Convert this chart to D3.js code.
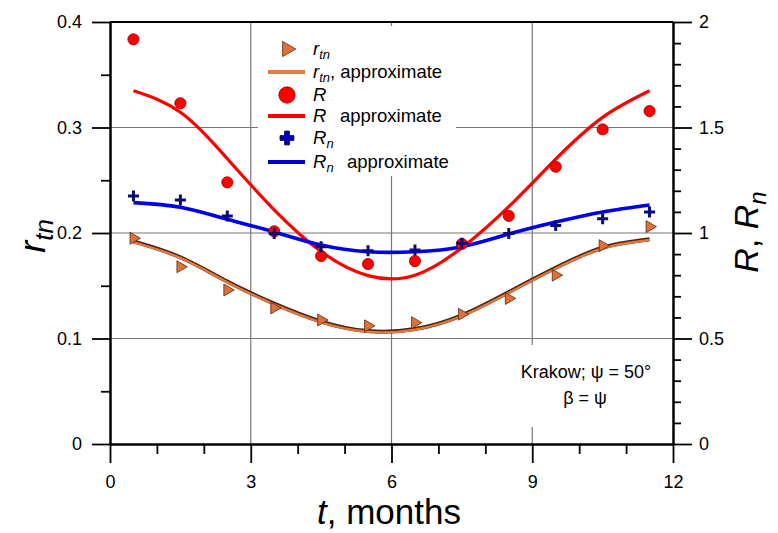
<!DOCTYPE html>
<html>
<head>
<meta charset="utf-8">
<script src="https://cdn.jsdelivr.net/npm/d3@7"></script>
<style>
  body { margin: 0; background: #fff; }
  svg { font-family: "Liberation Sans", Arial, sans-serif; }
  .axis path, .axis line { stroke: #000; }
  .axis text { font-size: 18px; fill: #000; }
</style>
</head>
<body>
<div id="chart"></div>
<script>
// month centres
var months = [0.5, 1.5, 2.5, 3.5, 4.5, 5.5, 6.5, 7.5, 8.5, 9.5, 10.5, 11.5];

// left axis series
var rtn       = [0.195, 0.168, 0.146, 0.129, 0.1175, 0.112, 0.115, 0.123, 0.138, 0.160, 0.188, 0.206];
var rtnApprox = [0.192, 0.177, 0.154, 0.133, 0.116, 0.107, 0.109, 0.122, 0.144, 0.167, 0.186, 0.194];

// right axis series
var R        = [1.918, 1.615, 1.240, 1.008, 0.891, 0.853, 0.867, 0.948, 1.081, 1.314, 1.491, 1.578];
var RApprox  = [1.674, 1.572, 1.352, 1.110, 0.912, 0.798, 0.800, 0.930, 1.125, 1.350, 1.548, 1.674];
var Rn       = [1.175, 1.156, 1.081, 0.998, 0.935, 0.916, 0.919, 0.951, 0.998, 1.036, 1.068, 1.100];
var RnApprox = [1.144, 1.122, 1.065, 1.005, 0.943, 0.911, 0.911, 0.935, 0.995, 1.052, 1.100, 1.133];

var xTicks = [0, 3, 6, 9, 12];
var leftTicks = [0, 0.1, 0.2, 0.3, 0.4];
var rightTicks = [0, 0.5, 1, 1.5, 2];

var W = 778, H = 533;
var pLeft = 110, pRight = 673, pTop = 22, pBottom = 444;

var x = d3.scaleLinear().domain([0, 12]).range([pLeft, pRight]);
var y = d3.scaleLinear().domain([0, 0.4]).range([pBottom, pTop]);
var y2 = d3.scaleLinear().domain([0, 2]).range([pBottom, pTop]);

var svg = d3.select("#chart").append("svg")
    .attr("width", W)
    .attr("height", H);

// grid
var grid = svg.append("g");
grid.selectAll(".hgrid")
    .data([0.1, 0.2, 0.3])
    .enter().append("line")
    .attr("x1", pLeft).attr("x2", pRight)
    .attr("y1", function (d) { return y(d); })
    .attr("y2", function (d) { return y(d); })
    .style("stroke", "#777").style("stroke-width", 1.2);
grid.selectAll(".vgrid")
    .data([3, 6, 9])
    .enter().append("line")
    .attr("y1", pTop).attr("y2", pBottom)
    .attr("x1", function (d) { return x(d); })
    .attr("x2", function (d) { return x(d); })
    .style("stroke", "#777").style("stroke-width", 1.2);

// white boxes behind legend and note
svg.append("rect").attr("x", 258).attr("y", 26).attr("width", 198).attr("height", 150).style("fill", "#fff");
svg.append("rect").attr("x", 508).attr("y", 345).attr("width", 160).attr("height", 82).style("fill", "#fff");

// axes
var minorLeft = [0.05, 0.15, 0.25, 0.35];
var minorRight = [0.1, 0.2, 0.3, 0.4, 0.6, 0.7, 0.8, 0.9, 1.1, 1.2, 1.3, 1.4, 1.6, 1.7, 1.8, 1.9];
var minorX = [1, 2, 4, 5, 7, 8, 10, 11];

svg.append("g").attr("class", "axis")
    .attr("transform", "translate(" + pLeft + ",0)")
    .call(d3.axisLeft(y).tickValues(minorLeft).tickSize(9).tickSizeOuter(0).tickFormat(""));
svg.append("g").attr("class", "axis")
    .attr("transform", "translate(" + pLeft + ",0)")
    .call(d3.axisLeft(y).tickValues(leftTicks).tickSize(18).tickSizeOuter(0).tickPadding(10)
        .tickFormat(function (d) { return d === 0 ? "0" : d3.format(".1f")(d); }));

svg.append("g").attr("class", "axis")
    .attr("transform", "translate(" + pRight + ",0)")
    .call(d3.axisRight(y2).tickValues(minorRight).tickSize(8).tickSizeOuter(0).tickFormat(""));
svg.append("g").attr("class", "axis")
    .attr("transform", "translate(" + pRight + ",0)")
    .call(d3.axisRight(y2).tickValues(rightTicks).tickSize(19).tickSizeOuter(0).tickPadding(7)
        .tickFormat(function (d) { return String(d); }));

svg.append("g").attr("class", "axis")
    .attr("transform", "translate(0," + pBottom + ")")
    .call(d3.axisBottom(x).tickValues(minorX).tickSize(10).tickSizeOuter(0).tickFormat(""));
svg.append("g").attr("class", "axis")
    .attr("transform", "translate(0," + pBottom + ")")
    .call(d3.axisBottom(x).tickValues(xTicks).tickSize(19).tickSizeOuter(0).tickPadding(12));

svg.selectAll(".axis path").style("stroke-width", 2);
svg.selectAll(".axis line").style("stroke-width", 1.8);

// top frame line
svg.append("line").attr("x1", pLeft).attr("x2", pRight).attr("y1", pTop).attr("y2", pTop)
    .style("stroke", "#000").style("stroke-width", 2);

// series
function pts(vals) { return vals.map(function (v, i) { return [months[i], v]; }); }

var lineL = d3.line().curve(d3.curveNatural)
    .x(function (d) { return x(d[0]); })
    .y(function (d) { return y(d[1]); });
var lineR = d3.line().curve(d3.curveNatural)
    .x(function (d) { return x(d[0]); })
    .y(function (d) { return y2(d[1]); });

var plot = svg.append("g");

plot.append("path").attr("d", lineL(pts(rtnApprox)))
    .style("fill", "none").style("stroke", "#4a2410").style("stroke-width", 4);
plot.append("path").attr("d", lineL(pts(rtnApprox)))
    .attr("transform", "translate(0,0.7)")
    .style("fill", "none").style("stroke", "#e2773f").style("stroke-width", 2.4);

plot.append("path").attr("d", lineR(pts(RApprox)))
    .style("fill", "none").style("stroke", "#ff0000").style("stroke-width", 3.2);
plot.append("path").attr("d", lineR(pts(RnApprox)))
    .style("fill", "none").style("stroke", "#0000ee").style("stroke-width", 3.6);

var tri = d3.symbol().type(d3.symbolTriangle);

plot.selectAll(".tri")
    .data(pts(rtn))
    .enter().append("path")
    .attr("d", tri.size(62)())
    .attr("transform", function (d) { return "translate(" + x(d[0]) + "," + y(d[1]) + ") rotate(90)"; })
    .style("fill", "#e0703a").style("stroke", "#5a2a08").style("stroke-width", 0.8);

plot.selectAll(".dot")
    .data(pts(R))
    .enter().append("circle")
    .attr("cx", function (d) { return x(d[0]); })
    .attr("cy", function (d) { return y2(d[1]); })
    .attr("r", 5.6)
    .style("fill", "#ff0000").style("stroke", "#990000").style("stroke-width", 0.8);

plot.selectAll(".plus")
    .data(pts(Rn))
    .enter().append("path")
    .attr("d", "M-5.5,0H5.5M0,-5.5V5.5")
    .attr("transform", function (d) { return "translate(" + x(d[0]) + "," + y2(d[1]) + ")"; })
    .style("fill", "none").style("stroke", "#0a0a78").style("stroke-width", 3);

// legend
var lg = svg.append("g").style("font-size", "18.5px");
var sx = 287, tx = 313;

lg.append("path").attr("d", tri.size(100)())
    .attr("transform", "translate(" + sx + ",49) rotate(90)")
    .style("fill", "#e0703a").style("stroke", "#5a2a08").style("stroke-width", 0.8);
lg.append("line").attr("x1", 268).attr("x2", 305).attr("y1", 72).attr("y2", 72)
    .style("stroke", "#e67a45").style("stroke-width", 4);
lg.append("circle").attr("cx", sx).attr("cy", 95).attr("r", 8.2)
    .style("fill", "#ff0000").style("stroke", "#990000").style("stroke-width", 0.8);
lg.append("line").attr("x1", 268).attr("x2", 305).attr("y1", 116).attr("y2", 116)
    .style("stroke", "#ff0000").style("stroke-width", 4);
lg.append("path").attr("d", d3.symbol().type(d3.symbolCross).size(105)())
    .attr("transform", "translate(" + sx + ",138)")
    .style("fill", "#0000cc").style("stroke", "#000040").style("stroke-width", 1);
lg.append("line").attr("x1", 268).attr("x2", 305).attr("y1", 162).attr("y2", 162)
    .style("stroke", "#0000cc").style("stroke-width", 4);

function legendText(yy, main, sub, rest, restX) {
    var t = lg.append("text").attr("x", tx).attr("y", yy);
    t.append("tspan").style("font-style", "italic").text(main);
    if (sub) t.append("tspan").style("font-style", "italic").style("font-size", "13px")
        .attr("dy", 4).text(sub);
    if (rest) {
        var r = t.append("tspan").attr("dy", sub ? -4 : 0).text(rest);
        if (restX) r.attr("x", restX);
    }
    return t;
}
legendText(55, "r", "tn", null);
legendText(78, "r", "tn", ", approximate");
legendText(101, "R", null, null);
legendText(122, "R", null, "approximate", 340);
legendText(144, "R", "n", null);
legendText(168, "R", "n", "approximate", 347);

// note
var note = svg.append("g").style("font-size", "18px").attr("text-anchor", "middle");
note.append("text").attr("x", 586).attr("y", 378).text("Krakow; \u03c8 = 50\u00b0");
note.append("text").attr("x", 585).attr("y", 404).text("\u03b2 = \u03c8");

// axis titles
var xt = svg.append("text").attr("x", 389).attr("y", 524)
    .attr("text-anchor", "middle").style("font-size", "35px");
xt.append("tspan").style("font-style", "italic").text("t");
xt.append("tspan").text(", months");

var ylt = svg.append("text")
    .attr("transform", "translate(45,236) rotate(-90)")
    .attr("text-anchor", "middle").style("font-size", "36px");
ylt.append("tspan").style("font-style", "italic").text("r");
ylt.append("tspan").style("font-style", "italic").style("font-size", "26px").attr("dy", 8).text("tn");

var yrt = svg.append("text")
    .attr("transform", "translate(758,232) rotate(-90)")
    .attr("text-anchor", "middle").style("font-size", "34px");
yrt.append("tspan").style("font-style", "italic").text("R");
yrt.append("tspan").text(", ");
yrt.append("tspan").style("font-style", "italic").text("R");
yrt.append("tspan").style("font-style", "italic").style("font-size", "24px").attr("dy", 8).text("n");
</script>
</body>
</html>
